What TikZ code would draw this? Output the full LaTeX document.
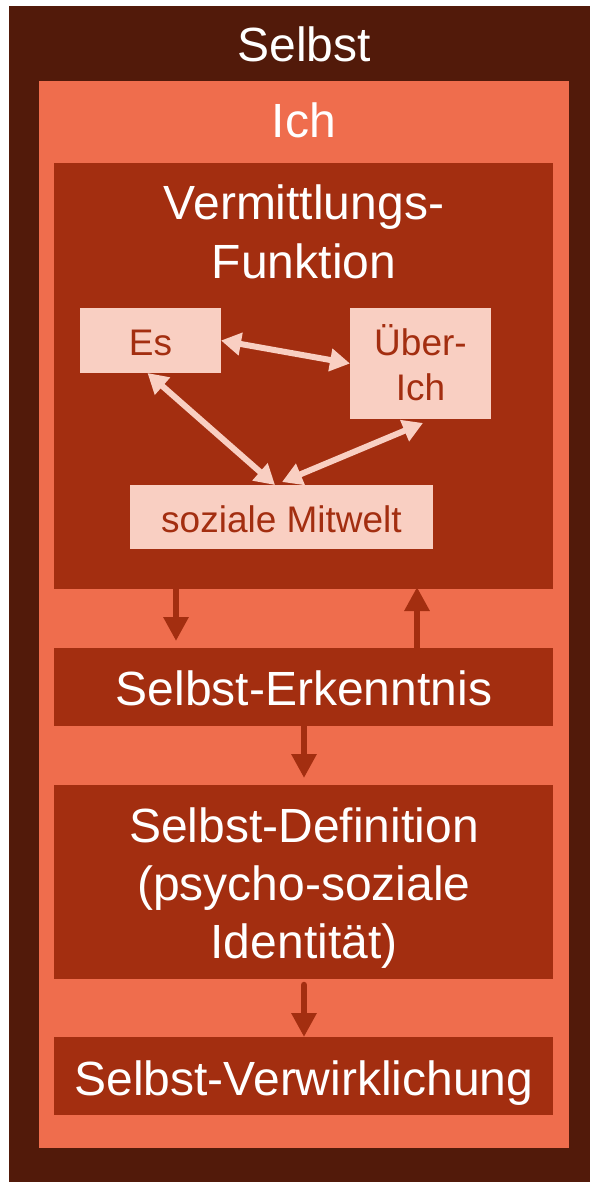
\documentclass[tikz,border=0pt]{standalone}
\usepackage{fontspec}
\setmainfont{Liberation Sans}
\usetikzlibrary{arrows.meta}
\definecolor{selbstbg}{HTML}{521A0A}
\definecolor{ichbg}{HTML}{EF6D4D}
\definecolor{boxbg}{HTML}{A32E10}
\definecolor{subbg}{HTML}{F9CFC2}

\begin{document}
\begin{tikzpicture}[x=1pt,y=-1pt,
  panel/.style={anchor=north west, inner sep=0pt, outer sep=0pt, draw=none},
  bigtxt/.style={anchor=base, inner sep=0pt, text=white, font=\fontsize{48}{58}\selectfont},
  subtxt/.style={anchor=base, inner sep=0pt, text=boxbg, font=\fontsize{37}{45}\selectfont},
  lightarrow/.style={draw=subbg, line width=6pt,
    {Triangle[length=20pt,width=22pt]}-{Triangle[length=20pt,width=22pt]}},
  flowarrow/.style={draw=boxbg, line width=6.5pt, line cap=round,
    -{Triangle[length=24pt,width=24pt]}}
]
\useasboundingbox (0,0) rectangle (590,1182);

% nested panels
\node[panel, fill=selbstbg, minimum width=581pt, minimum height=1176pt] (selbst) at (9,6) {};
\node[panel, fill=ichbg, minimum width=530pt, minimum height=1067pt] (ich) at (39,81) {};
\node[panel, fill=boxbg, minimum width=499pt, minimum height=426pt] (verm) at (54,163) {};
\node[panel, fill=boxbg, minimum width=499pt, minimum height=78pt] (erk) at (54,648) {};
\node[panel, fill=boxbg, minimum width=499pt, minimum height=194pt] (def) at (54,785) {};
\node[panel, fill=boxbg, minimum width=499pt, minimum height=78pt] (verw) at (54,1037) {};

% inner boxes of the mediating function
\node[panel, fill=subbg, minimum width=141pt, minimum height=65pt] (es) at (80,308) {};
\node[panel, fill=subbg, minimum width=141pt, minimum height=111pt] (uber) at (350,308) {};
\node[panel, fill=subbg, minimum width=303pt, minimum height=64pt] (soz) at (130,485) {};

% labels
\node[bigtxt] (selbsttxt) at (304,62) {Selbst};
\node[bigtxt] (ichtxt) at (304,138) {Ich};
\node[bigtxt] (vermtxtA) at (304,220) {Vermittlungs-};
\node[bigtxt] (vermtxtB) at (304,278) {Funktion};
\node[bigtxt] (erktxt) at (304,705) {Selbst-Erkenntnis};
\node[bigtxt] (deftxtA) at (304,842) {Selbst-Definition};
\node[bigtxt] (deftxtB) at (304,900) {(psycho-soziale};
\node[bigtxt] (deftxtC) at (304,958) {Identität)};
\node[bigtxt] (verwtxt) at (304,1095) {Selbst-Verwirklichung};

\node[subtxt] (estxt) at (150.5,355) {Es};
\node[subtxt] (ubertxtA) at (420.5,355) {Über-};
\node[subtxt] (ubertxtB) at (420.5,400) {Ich};
\node[subtxt] (soztxt) at (281.5,532) {soziale Mitwelt};

% mutual relations
\draw[lightarrow] (es.east) -- (uber.west);
\draw[lightarrow] ([xshift=-3pt]es.south) -- ([xshift=-6.5pt]soz.north);
\draw[lightarrow] ([shift={(2.5,4)}]uber.south) -- ([shift={(0.5,-3)}]soz.north);

% flow between the stages
\draw[flowarrow] ([xshift=-127.5pt]verm.south) -- ([shift={(-127.5,-7)}]erk.north);
\draw[flowarrow] ([xshift=113.5pt]erk.north) -- ([shift={(113.5,-2)}]verm.south);
\draw[flowarrow] ([xshift=0.5pt]erk.south) -- ([shift={(0.5,-7)}]def.north);
\draw[flowarrow] ([shift={(0.5,6)}]def.south) -- ([xshift=0.5pt]verw.north);
\end{tikzpicture}
\end{document}
